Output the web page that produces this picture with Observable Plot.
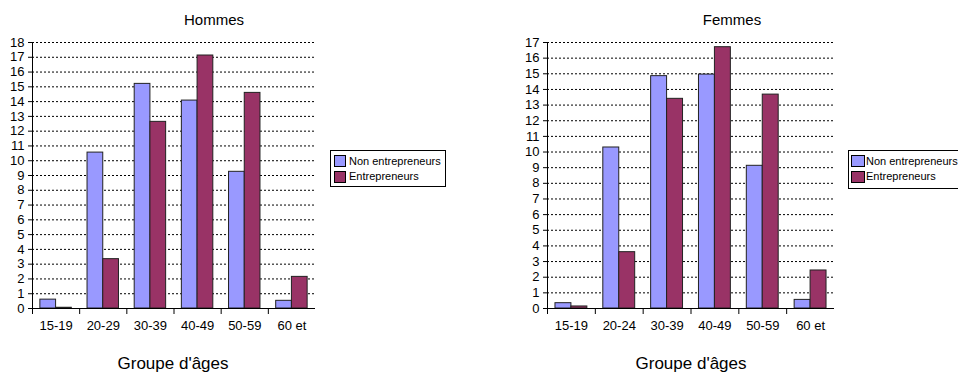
<!DOCTYPE html>
<html><head><meta charset="utf-8">
<script src="https://cdn.jsdelivr.net/npm/d3@7"></script>
<script src="https://cdn.jsdelivr.net/npm/@observablehq/plot@0.6"></script>
<style>
body{margin:0;background:#fff;font-family:"Liberation Sans",Arial,sans-serif;color:#000;}
#wrap{position:relative;width:958px;height:372px;overflow:hidden;background:#fff;}
.panel{position:absolute;top:0;}
.txt{position:absolute;white-space:nowrap;line-height:1;transform:translateX(-50%);}
.title{font-size:15px;}
.xlab{font-size:17px;}
.legend{position:absolute;border:1px solid #000;background:#fff;font-size:11px;box-sizing:border-box;}
.legend .sw{position:absolute;border:1px solid #000;box-sizing:border-box;}
.legend .lb{position:absolute;white-space:nowrap;line-height:1;}
</style></head>
<body><div id="wrap"></div>
<script>
// ---- data ----
const seriesNames = ["Non entrepreneurs", "Entrepreneurs"];
const seriesColors = ["#9999ff", "#993366"];
const xTitle = "Groupe d'âges";

const hommesTitle = "Hommes";
const hommesCategories = ["15-19", "20-29", "30-39", "40-49", "50-59", "60 et"];
const hommesNon = [0.6, 10.55, 15.2, 14.07, 9.25, 0.52];
const hommesEnt = [0.05, 3.34, 12.63, 17.12, 14.59, 2.14];
const hommesYTicks = [0,1,2,3,4,5,6,7,8,9,10,11,12,13,14,15,16,17,18];

const femmesTitle = "Femmes";
const femmesCategories = ["15-19", "20-24", "30-39", "40-49", "50-59", "60 et"];
const femmesNon = [0.34, 10.29, 14.85, 14.95, 9.12, 0.55];
const femmesEnt = [0.13, 3.6, 13.4, 16.7, 13.67, 2.43];
const femmesYTicks = [0,1,2,3,4,5,6,7,8,9,10,11,12,13,14,15,16,17];

const wrap = document.getElementById("wrap");

function makeChart(categories, non, ent, yTicks, opts) {
  const n = categories.length;
  const rows = categories.flatMap((c, i) => [
    {i, s: 0, series: seriesNames[0], value: non[i]},
    {i, s: 1, series: seriesNames[1], value: ent[i]}
  ]);
  const yMax = yTicks[yTicks.length - 1];
  const boundaries = d3.range(0, n);
  const centers = d3.range(0, n).map(i => i + 0.5);
  return Plot.plot({
    width: 479, height: 372,
    marginTop: 42, marginBottom: 64,
    marginLeft: opts.marginLeft, marginRight: opts.marginRight,
    style: {fontFamily: "'Liberation Sans', Arial, sans-serif", fontSize: "13px", color: "#000", background: "transparent"},
    x: {domain: [0, n]},
    y: {domain: [0, yMax]},
    color: {domain: seriesNames, range: seriesColors},
    marks: [
      Plot.gridY(yTicks, {stroke: "#000", strokeOpacity: 1, strokeDasharray: "2,2"}),
      Plot.rectY(rows, {
        x1: d => d.i + 1/6 + d.s/3,
        x2: d => d.i + 1/6 + (d.s + 1)/3,
        y: "value", fill: "series", stroke: "#222", strokeWidth: 1
      }),
      Plot.ruleY([0], {stroke: "#000"}),
      Plot.ruleX([0], {stroke: "#000"}),
      Plot.axisY({ticks: yTicks, tickSize: 4, tickPadding: 4, label: null, fill: "#000", stroke: "#000"}),
      Plot.axisX({ticks: boundaries, tickSize: 6, tickFormat: () => "", label: null, stroke: "#000"}),
      Plot.axisX({ticks: centers, tickSize: 0, tickPadding: 12, tickFormat: v => categories[Math.round(v - 0.5)], label: null, fill: "#000"})
    ]
  });
}

function addPanel(left, chart) {
  const d = document.createElement("div");
  d.className = "panel"; d.style.left = left + "px";
  d.appendChild(chart); wrap.appendChild(d);
}
function addText(cls, text, cx, top) {
  const d = document.createElement("div");
  d.className = "txt " + cls; d.textContent = text;
  d.style.left = cx + "px"; d.style.top = top + "px";
  wrap.appendChild(d);
}
function addLegend(left, top, w, h, swLeft, swW, txtLeft) {
  const L = document.createElement("div");
  L.className = "legend";
  Object.assign(L.style, {left: left + "px", top: top + "px", width: w + "px", height: h + "px"});
  seriesNames.forEach((name, k) => {
    const sw = document.createElement("div");
    sw.className = "sw";
    Object.assign(sw.style, {left: swLeft + "px", top: (4 + k * 15.5) + "px", background: seriesColors[k], width: swW + "px", height: "12px"});
    const lb = document.createElement("div");
    lb.className = "lb"; lb.textContent = name;
    Object.assign(lb.style, {left: txtLeft + "px", top: (4.5 + k * 15.5) + "px"});
    L.appendChild(sw); L.appendChild(lb);
  });
  wrap.appendChild(L);
}

addPanel(0, makeChart(hommesCategories, hommesNon, hommesEnt, hommesYTicks, {marginLeft: 32, marginRight: 164}));
addPanel(479, makeChart(femmesCategories, femmesNon, femmesEnt, femmesYTicks, {marginLeft: 68, marginRight: 124}));

addText("title", hommesTitle, 214, 12);
addText("title", femmesTitle, 732, 12);
addText("xlab", xTitle, 173, 355);
addText("xlab", xTitle, 691, 355);

addLegend(330, 150, 116, 37, 3, 12, 18);
addLegend(848, 150, 116, 39, 2, 14, 17);
</script>
</body></html>
